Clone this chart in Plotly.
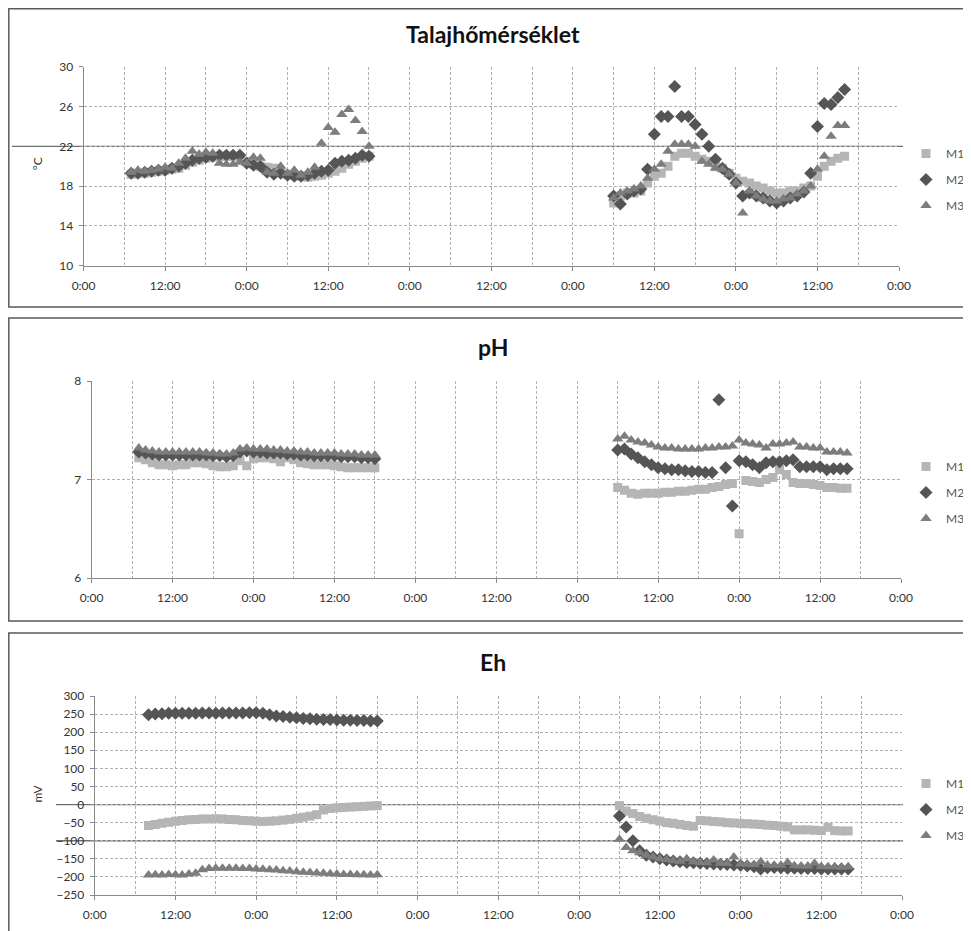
import plotly.graph_objects as go

# ---------------- data (hours counted from 0:00 of the first day) ----------------
HOURS_S1 = list(range(7, 43))
HOURS_S1_EH = list(range(8, 43))
HOURS_S2 = list(range(78, 113))

TICK_HOURS = [0, 12, 24, 36, 48, 60, 72, 84, 96, 108, 120]
TICK_LABELS = ["0:00", "12:00", "0:00", "12:00", "0:00", "12:00",
               "0:00", "12:00", "0:00", "12:00", "0:00"]

SERIES = ["M1", "M2", "M3"]

# Talajhőmérséklet (°C)
T_M1_S1 = [19.2, 19.3, 19.3, 19.4, 19.5, 19.6, 19.7, 19.8, 20.1, 20.4, 20.6, 20.8,
           20.9, 21.0, 21.0, 21.0, 20.9, 20.5, 20.2, 20.0, 19.9, 19.8, 19.5, 19.2,
           19.1, 19.0, 18.9, 19.0, 19.1, 19.3, 19.5, 19.8, 20.2, 20.5, 20.8, 21.0]
T_M2_S1 = [19.3, 19.3, 19.4, 19.5, 19.6, 19.6, 19.8, 20.0, 20.3, 20.6, 20.8, 20.9,
           21.0, 21.1, 21.1, 21.1, 21.1, 20.3, 20.1, 20.0, 19.4, 19.2, 19.3, 19.1,
           19.0, 19.0, 19.1, 19.3, 19.5, 19.6, 20.3, 20.5, 20.6, 20.8, 21.1, 21.0]
T_M3_S1 = [19.4, 19.6, 19.5, 19.6, 19.7, 19.9, 19.8, 20.3, 20.8, 21.5, 21.2, 21.4,
           21.3, 20.3, 20.2, 20.2, 20.4, 20.3, 20.9, 20.8, 19.4, 19.3, 20.0, 19.3,
           19.6, 19.1, 19.4, 19.9, 22.3, 23.9, 23.4, 25.2, 25.7, 24.6, 23.5, 22.0]
T_M1_S2 = [16.3, 17.0, 17.3, 17.3, 17.5, 18.3, 19.0, 19.3, 20.0, 21.0, 21.3, 21.3,
           21.0, 20.7, 20.5, 20.0, 19.8, 19.3, 18.8, 18.5, 18.3, 18.0, 17.8, 17.5,
           17.3, 17.3, 17.5, 17.5, 17.8, 18.0, 19.0, 20.0, 20.5, 20.8, 21.0]
T_M2_S2 = [17.0, 16.2, 17.2, 17.5, 17.7, 19.7, 23.2, 25.0, 25.0, 28.0, 25.0, 25.0,
           24.2, 23.2, 22.0, 20.7, 19.8, 19.2, 18.3, 17.0, 17.3, 17.0, 16.8, 16.5,
           16.3, 16.5, 16.8, 17.0, 17.4, 19.3, 24.0, 26.3, 26.2, 26.9, 27.7]
T_M3_S2 = [16.8, 17.3, 17.5, 17.7, 18.0, 18.8, 19.7, 20.2, 21.5, 22.2, 22.2, 22.2,
           22.0, 20.5, 20.2, 19.8, 19.7, 19.2, 18.3, 15.3, 17.5, 17.0, 16.7, 16.5,
           16.5, 16.7, 16.8, 17.2, 17.5, 18.0, 19.7, 21.0, 23.0, 24.1, 24.1]

# pH
PH_M1_S1 = [7.22, 7.20, 7.17, 7.15, 7.15, 7.14, 7.15, 7.15, 7.17, 7.17, 7.16, 7.14,
            7.13, 7.13, 7.14, 7.19, 7.14, 7.21, 7.22, 7.22, 7.21, 7.18, 7.22, 7.20,
            7.17, 7.16, 7.15, 7.15, 7.15, 7.14, 7.13, 7.12, 7.12, 7.12, 7.12, 7.12]
PH_M2_S1 = [7.28, 7.27, 7.26, 7.25, 7.25, 7.25, 7.25, 7.25, 7.25, 7.25, 7.25, 7.24,
            7.24, 7.23, 7.24, 7.28, 7.29, 7.28, 7.28, 7.27, 7.27, 7.27, 7.26, 7.26,
            7.25, 7.25, 7.24, 7.24, 7.24, 7.24, 7.23, 7.23, 7.23, 7.22, 7.22, 7.21]
PH_M3_S1 = [7.32, 7.30, 7.29, 7.28, 7.28, 7.28, 7.28, 7.28, 7.28, 7.28, 7.27, 7.27,
            7.26, 7.26, 7.27, 7.31, 7.32, 7.31, 7.31, 7.31, 7.30, 7.30, 7.29, 7.29,
            7.28, 7.28, 7.27, 7.27, 7.27, 7.27, 7.26, 7.26, 7.26, 7.25, 7.25, 7.25]
PH_M1_S2 = [6.92, 6.89, 6.86, 6.85, 6.86, 6.86, 6.86, 6.87, 6.87, 6.88, 6.88, 6.89,
            6.90, 6.90, 6.92, 6.93, 6.95, 6.96, 6.45, 6.99, 6.98, 6.97, 7.00, 7.02,
            7.10, 7.05, 6.97, 6.96, 6.96, 6.95, 6.94, 6.92, 6.92, 6.91, 6.91]
PH_M2_S2 = [7.30, 7.31, 7.26, 7.22, 7.18, 7.15, 7.12, 7.11, 7.10, 7.10, 7.09, 7.08,
            7.08, 7.07, 7.07, 7.81, 7.12, 6.73, 7.19, 7.18, 7.15, 7.12, 7.17, 7.18,
            7.18, 7.19, 7.20, 7.13, 7.13, 7.13, 7.13, 7.10, 7.11, 7.11, 7.11]
PH_M3_S2 = [7.41, 7.44, 7.40, 7.38, 7.37, 7.35, 7.33, 7.32, 7.32, 7.31, 7.31, 7.31,
            7.31, 7.32, 7.32, 7.33, 7.33, 7.34, 7.40, 7.37, 7.36, 7.35, 7.32, 7.36,
            7.36, 7.37, 7.38, 7.33, 7.33, 7.32, 7.32, 7.28, 7.28, 7.28, 7.27]

# Eh (mV)
EH_M1_S1 = [-58, -55, -52, -49, -46, -44, -42, -41, -40, -40, -39, -40, -41, -42,
            -44, -45, -46, -47, -46, -45, -43, -41, -38, -35, -32, -28, -15, -11,
            -9, -8, -7, -6, -5, -4, -3]
EH_M2_S1 = [248, 250, 251, 252, 252, 252, 252, 252, 253, 253, 252, 253, 253, 253,
            253, 254, 254, 252, 248, 245, 243, 241, 240, 238, 237, 236, 235, 235,
            234, 233, 233, 232, 232, 231, 231]
EH_M3_S1 = [-195, -194, -195, -193, -194, -195, -192, -190, -180, -177, -176, -176,
            -176, -176, -177, -177, -178, -179, -180, -181, -183, -184, -186, -187,
            -188, -189, -190, -191, -192, -193, -193, -194, -194, -195, -194]
EH_M1_S2 = [-3, -18, -25, -33, -38, -42, -46, -50, -52, -55, -58, -60, -44, -45,
            -47, -48, -50, -51, -52, -53, -54, -55, -57, -58, -60, -62, -70, -70,
            -70, -71, -72, -63, -72, -73, -73]
EH_M2_S2 = [-32, -62, -100, -128, -140, -145, -150, -153, -156, -158, -160, -161,
            -162, -163, -164, -165, -166, -167, -168, -170, -172, -178, -175, -174,
            -175, -176, -176, -177, -177, -177, -178, -178, -178, -178, -178]
EH_M3_S2 = [-96, -119, -128, -133, -140, -145, -150, -152, -155, -157, -150, -158,
            -160, -161, -153, -162, -163, -145, -164, -165, -166, -158, -167, -168,
            -168, -160, -169, -170, -170, -162, -171, -172, -172, -173, -172]

# ---------------- styling ----------------
# The page body keeps an 8 px margin, so the figure is made 8 px smaller on each
# axis and all design positions (screen pixels) are converted with that offset.
VIEW_W, VIEW_H = 971, 931
OX, OY = 8, 8
W, H = VIEW_W - OX, VIEW_H - OY
FONT = "Lato, 'Open Sans', sans-serif"
GRID = "#b0b0b0"
GRID_DASH = "3px,2px"
AXIS = "#8a8a8a"
MARK = {
    "M1": dict(symbol="square", color="#b5b5b5", size=9),
    "M2": dict(symbol="diamond", color="#555555", size=10),
    "M3": dict(symbol="triangle-up", color="#7d7d7d", size=10),
}


def px_x(px):
    return (px - OX) / W


def px_y(py):
    return 1 - (py - OY) / H


panels = [
    dict(key="", title="Talajhőmérséklet", ytitle="°C",
         x_px=(83.6, 899), y_px=(66.7, 265.7), yrange=[10, 30],
         yticks=[10, 14, 18, 22, 26, 30], title_y=34, legend_top=139,
         s1_hours=HOURS_S1,
         data={"M1": (T_M1_S1, T_M1_S2), "M2": (T_M2_S1, T_M2_S2), "M3": (T_M3_S1, T_M3_S2)}),
    dict(key="2", title="pH", ytitle=None,
         x_px=(91.6, 901), y_px=(381, 578), yrange=[6, 8],
         yticks=[6, 7, 8], title_y=347, legend_top=452,
         s1_hours=HOURS_S1,
         data={"M1": (PH_M1_S1, PH_M1_S2), "M2": (PH_M2_S1, PH_M2_S2), "M3": (PH_M3_S1, PH_M3_S2)}),
    dict(key="3", title="Eh", ytitle="mV",
         x_px=(94.7, 902), y_px=(696, 895), yrange=[-250, 300],
         yticks=list(range(-250, 301, 50)), title_y=662, legend_top=769,
         s1_hours=HOURS_S1_EH,
         data={"M1": (EH_M1_S1, EH_M1_S2), "M2": (EH_M2_S1, EH_M2_S2), "M3": (EH_M3_S1, EH_M3_S2)}),
]

fig = go.Figure()
layout = dict(
    template="none",
    width=W, height=H, margin=dict(l=0, r=0, t=0, b=0, pad=0, autoexpand=False),
    paper_bgcolor="white", plot_bgcolor="white",
    font=dict(family=FONT, size=12, color="#333333"),
    showlegend=True,
)
annotations = []
shapes = []

for i, p in enumerate(panels):
    k = p["key"]
    xa, ya = "x" + k, "y" + k
    legend_name = "legend" + k
    for s in SERIES:
        s1, s2 = p["data"][s]
        m = MARK[s]
        fig.add_trace(go.Scatter(
            x=p["s1_hours"] + HOURS_S2, y=s1 + s2,
            mode="markers", name=s, xaxis=xa, yaxis=ya,
            legend=legend_name, legendgroup=s + k,
            marker=dict(symbol=m["symbol"], color=m["color"], size=m["size"],
                        line=dict(width=0)),
            hoverinfo="x+y+name",
        ))
    x0, x1 = p["x_px"]
    y0, y1 = p["y_px"]
    layout["xaxis" + k] = dict(
        domain=[px_x(x0), px_x(x1)], range=[0, 120], anchor=ya, automargin=False,
        tickmode="array", tickvals=TICK_HOURS, ticktext=TICK_LABELS,
        showgrid=True, gridcolor=GRID, griddash=GRID_DASH, gridwidth=1,
        minor=dict(tickmode="linear", tick0=0, dtick=6, showgrid=True,
                   gridcolor=GRID, griddash=GRID_DASH, gridwidth=1),
        showline=True, linecolor=AXIS, linewidth=1,
        ticks="outside", ticklen=4, tickcolor=AXIS,
        ticklabelstandoff=5, zeroline=False,
        tickfont=dict(size=12, color="#333333", family=FONT),
    )
    layout["yaxis" + k] = dict(
        domain=[px_y(y1), px_y(y0)], range=p["yrange"], anchor=xa, automargin=False,
        tickmode="array", tickvals=p["yticks"],
        showgrid=True, gridcolor=GRID, griddash=GRID_DASH, gridwidth=1,
        showline=True, linecolor=AXIS, linewidth=1,
        ticks="outside", ticklen=4, tickcolor=AXIS,
        ticklabelstandoff=3, zeroline=False,
        tickfont=dict(size=12, color="#333333", family=FONT),
    )
    layout[legend_name] = dict(
        x=px_x(906), y=px_y(p["legend_top"]), xanchor="left", yanchor="top",
        bgcolor="rgba(0,0,0,0)", borderwidth=0, tracegroupgap=7,
        font=dict(size=12, color="#555555", family=FONT),
    )
    annotations.append(dict(
        text="<b>" + p["title"] + "</b>", x=px_x(493), y=px_y(p["title_y"]),
        xref="paper", yref="paper", showarrow=False, xanchor="center", yanchor="middle",
        font=dict(size=23, color="#111111", family=FONT),
    ))
    if p["ytitle"]:
        annotations.append(dict(
            text=p["ytitle"], x=px_x(37), y=px_y((y0 + y1) / 2 - 2),
            xref="paper", yref="paper", showarrow=False, textangle=-90,
            xanchor="center", yanchor="middle",
            font=dict(size=12, color="#333333", family=FONT),
        ))

# chart boxes (three stacked chart frames)
for (top, bottom) in [(8.8, 307), (318, 621), (633, 945)]:
    shapes.append(dict(type="rect", xref="paper", yref="paper",
                       x0=px_x(8.8), x1=px_x(985), y0=px_y(bottom), y1=px_y(top),
                       line=dict(color="#5a5a5a", width=1.5), fillcolor="rgba(0,0,0,0)",
                       layer="below"))

# darker copy lines visible on the scanned original
for (yref, yv, xs) in [("y", 22, 12), ("y3", 0, 56), ("y3", -100, 56)]:
    shapes.append(dict(type="line", xref="paper", yref=yref,
                       x0=px_x(xs), x1=px_x(903), y0=yv, y1=yv,
                       line=dict(color="#6e6e6e", width=1.3), layer="below"))

layout["annotations"] = annotations
layout["shapes"] = shapes
fig.update_layout(**layout)

fig.write_html("out.html")
